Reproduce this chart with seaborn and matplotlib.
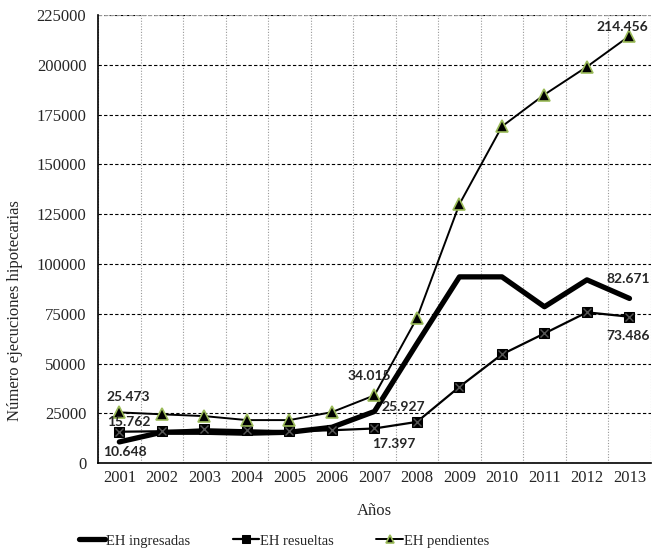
import matplotlib
matplotlib.use("Agg")
import matplotlib.pyplot as plt
import numpy as np
import pandas as pd
import seaborn as sns

years = [2001, 2002, 2003, 2004, 2005, 2006, 2007, 2008, 2009, 2010, 2011, 2012, 2013]
ingresadas = [10648, 15500, 15500, 15000, 15500, 18000, 25927, 60000, 93500, 93500, 78500, 92000, 82671]
resueltas = [15762, 16000, 17000, 16500, 16000, 16500, 17397, 20700, 38300, 54600, 65100, 75700, 73486]
pendientes = [25473, 24500, 23600, 21600, 21600, 25600, 34015, 72800, 130000, 169000, 185000, 199000, 214456]

# (year index, label, dx pt, dy pt)
labels = {
    "ingresadas": [(0, "10.648", 4, -7), (6, "25.927", 21, 3), (12, "82.671", -1, 14)],
    "resueltas": [(0, "15.762", 6.5, 7), (6, "17.397", 14, -11), (12, "73.486", -1, -14)],
    "pendientes": [(0, "25.473", 6.5, 11), (6, "34.015", -3.5, 14), (12, "214.456", -5, 6.5)],
}

df = pd.DataFrame({
    "idx": list(range(len(years))) * 3,
    "valor": ingresadas + resueltas + pendientes,
    "serie": ["EH ingresadas"] * 13 + ["EH resueltas"] * 13 + ["EH pendientes"] * 13,
})

sns.set_style("white")
plt.rcParams["font.family"] = ["Liberation Serif", "DejaVu Serif"]

fig = plt.figure(figsize=(6.54, 5.52), dpi=100)
ax = fig.add_axes([0.150, 0.161, 0.845, 0.812])

styles = {
    "EH ingresadas": dict(lw=3.8, marker=None),
    "EH resueltas": dict(lw=1.6, marker="s", ms=7.5, mfc="black", mec="black"),
    "EH pendientes": dict(lw=1.4, marker="^", ms=8.5, mfc="black", mec="#9bbb59", mew=1.2),
}
for name, kw in styles.items():
    sub = df[df["serie"] == name]
    sns.lineplot(data=sub, x="idx", y="valor", ax=ax, color="black", label=name, **kw)

# cross inside the square markers
sub = df[df["serie"] == "EH resueltas"]
ax.plot(sub["idx"], sub["valor"], linestyle="none", marker="x", ms=6, mew=1.0,
        color="#555555", zorder=5)

for key, series in [("ingresadas", ingresadas), ("resueltas", resueltas), ("pendientes", pendientes)]:
    for i, txt, dx, dy in labels[key]:
        ax.annotate(txt, (i, series[i]), xytext=(dx, dy), textcoords="offset points",
                    ha="center", va="center", fontsize=10, fontweight="bold",
                    family=["Lato", "DejaVu Sans"], zorder=6)

ax.set_xlim(-0.5, 12.5)
ax.set_ylim(0, 225000)
ax.set_xticks(range(13))
ax.set_xticklabels([str(y) for y in years], fontsize=12)
ax.set_xticks(np.arange(-0.5, 13, 1), minor=True)
ax.tick_params(axis="x", which="major", length=0, pad=5)
ax.tick_params(axis="x", which="minor", length=5, color="black", direction="out")
ax.set_yticks(np.arange(0, 225001, 25000))
ax.tick_params(axis="y", labelsize=12, length=5, direction="out", color="black")

ax.grid(axis="y", which="major", color="black", linestyle=(0, (3, 2)), lw=0.8)
ax.grid(axis="x", which="minor", color="#999999", linestyle=(0, (1, 1.5)), lw=0.8)
ax.grid(axis="x", which="major", visible=False)
ax.set_axisbelow(True)

for s in ["top", "right"]:
    ax.spines[s].set_visible(False)
ax.axhline(225000, color="#999999", lw=1.5, linestyle=(0, (2, 1)))
ax.spines["left"].set_color("black")
ax.spines["bottom"].set_color("black")
ax.spines["left"].set_linewidth(1.2)
ax.spines["bottom"].set_linewidth(1.2)

ax.set_xlabel("Años", fontsize=12)
ax.xaxis.set_label_coords(0.5, -0.088)
ax.set_ylabel("Número ejecuciones hipotecarias", fontsize=12)
ax.yaxis.set_label_coords(-0.135, 0.34)

handles, lbls = ax.get_legend_handles_labels()
ax.legend(handles[:3], lbls[:3], loc="center left", bbox_to_anchor=(0.1, 0.02),
          bbox_transform=fig.transFigure, ncol=3, frameon=False,
          fontsize=10.5, handlelength=1.8, handletextpad=0.1, columnspacing=2.9,
          markerscale=0.75)

fig.savefig("out.png", dpi=100)
